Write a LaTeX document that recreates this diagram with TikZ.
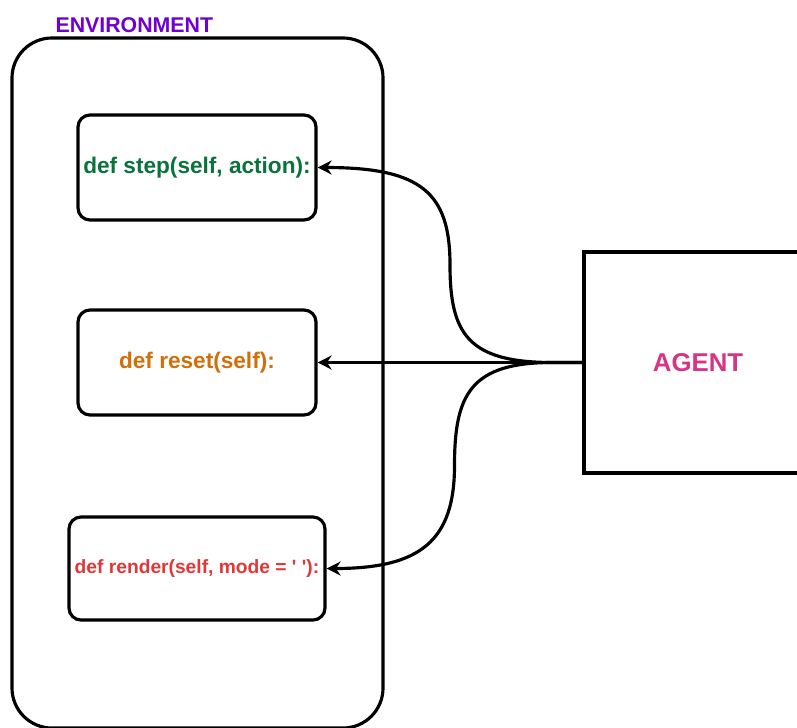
\documentclass[tikz,border=0pt]{standalone}
\usepackage{fontspec}
\setsansfont{Liberation Sans}
\usepackage{tikz}
\usetikzlibrary{arrows.meta,positioning,calc}

\definecolor{envpurple}{RGB}{112,0,208}
\definecolor{stepgreen}{RGB}{10,115,60}
\definecolor{resetorange}{RGB}{208,112,10}
\definecolor{renderred}{RGB}{222,56,56}
\definecolor{agentpink}{RGB}{214,52,134}

\begin{document}
\begin{tikzpicture}[x=0.03cm,y=-0.03cm,line width=2.7pt,
  >={Stealth[length=12pt,width=12pt,inset=4pt]},
  fn node/.style={draw,rounded corners=0.36cm,minimum width=7.14cm,minimum height=3.15cm,
    inner sep=0pt,font=\sffamily\bfseries\fontsize{19.3}{22}\selectfont},
  env node/.style={draw,rounded corners=1.2cm,minimum width=11.13cm,minimum height=20.7cm},
  agent node/.style={draw,minimum width=6.84cm,minimum height=6.63cm,
    font=\sffamily\bfseries\fontsize{22}{26}\selectfont,text=agentpink}]
    \useasboundingbox (0,0) rectangle (797,727);
    \node[env node] (env) at (197.5,383) {};
    \node[anchor=west,inner sep=0pt,text=envpurple,font=\sffamily\bfseries\fontsize{18.2}{22}\selectfont]
      (envlabel) at (54,25) {ENVIRONMENT};
    \node[fn node,text=stepgreen] (step) at (197,167.5) {def step(self, action):};
    \node[fn node,text=resetorange] (reset) at (197,362.5) {def reset(self):};
    \node[fn node,text=renderred,minimum width=7.68cm,minimum height=3.09cm,
      font=\sffamily\bfseries\fontsize{16.4}{20}\selectfont] (render) at (197,568.5)
      {def render(self, mode = \textquotesingle{} \textquotesingle{}):};
    \node[agent node] (agent) at (698,362.5) {AGENT};
    \draw[->] (agent.west) -- ++(-30,0) .. controls +(-85,0) and +(0,68)
      .. ($(agent.west)!.5!(step.east)$) .. controls +(0,-72) and +(104,0) .. (step.east);
    \draw[->] (agent.west) -- (reset.east);
    \draw[->] (agent.west) -- ++(-30,0) .. controls +(-82,0) and +(0,-71)
      .. ($(agent.west)!.5!(render.east)$) .. controls +(0,75) and +(94,0) .. (render.east);
\end{tikzpicture}
\end{document}
